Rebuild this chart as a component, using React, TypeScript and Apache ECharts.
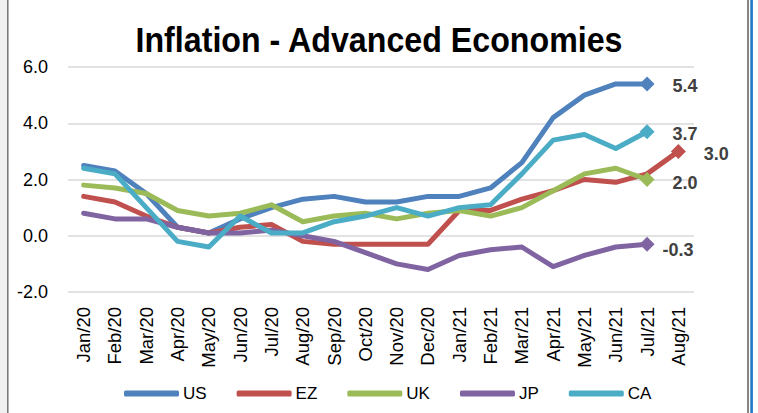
import React, { useEffect, useRef } from "react";
import * as echarts from "echarts";

const categories = [
  "Jan/20", "Feb/20", "Mar/20", "Apr/20", "May/20", "Jun/20", "Jul/20", "Aug/20", "Sep/20", "Oct/20",
  "Nov/20", "Dec/20", "Jan/21", "Feb/21", "Mar/21", "Apr/21", "May/21", "Jun/21", "Jul/21", "Aug/21",
];
const usValues = [2.5, 2.3, 1.5, 0.3, 0.1, 0.6, 1.0, 1.3, 1.4, 1.2, 1.2, 1.4, 1.4, 1.7, 2.6, 4.2, 5.0, 5.4, 5.4, null];
const ezValues = [1.4, 1.2, 0.7, 0.3, 0.1, 0.3, 0.4, -0.2, -0.3, -0.3, -0.3, -0.3, 0.9, 0.9, 1.3, 1.6, 2.0, 1.9, 2.2, 3.0];
const ukValues = [1.8, 1.7, 1.5, 0.9, 0.7, 0.8, 1.1, 0.5, 0.7, 0.8, 0.6, 0.8, 0.9, 0.7, 1.0, 1.6, 2.2, 2.4, 2.0, null];
const jpValues = [0.8, 0.6, 0.6, 0.3, 0.1, 0.1, 0.2, 0.0, -0.2, -0.6, -1.0, -1.2, -0.7, -0.5, -0.4, -1.1, -0.7, -0.4, -0.3, null];
const caValues = [2.4, 2.2, 1.0, -0.2, -0.4, 0.7, 0.1, 0.1, 0.5, 0.7, 1.0, 0.7, 1.0, 1.1, 2.2, 3.4, 3.6, 3.1, 3.7, null];

const seriesNames = ["US", "EZ", "UK", "JP", "CA"];
const seriesColors = ["#4F81BD", "#C0504D", "#9BBB59", "#8064A2", "#4BACC6"];
const seriesValues = [usValues, ezValues, ukValues, jpValues, caValues];
const labelDistance = [18, 18, 18, 8, 18];
const labelOffsetY = [2, 3, 3, 6, 2];

const FONT = "'Liberation Sans', Arial, sans-serif";

function buildData(values: (number | null)[], idx: number) {
  let last = -1;
  values.forEach((v, i) => {
    if (v !== null) last = i;
  });
  return values.map((v, i) => {
    if (v === null) return "-";
    if (i !== last) return v;
    return {
      value: v,
      symbol: "diamond",
      symbolSize: 15,
      label: {
        show: true,
        position: "right",
        distance: labelDistance[idx],
        offset: [0, labelOffsetY[idx]],
        formatter: (p: any) => Number(p.value).toFixed(1),
        color: "#404040",
        fontWeight: "bold",
        fontSize: 18,
        fontFamily: FONT,
      },
    };
  });
}

export default function App() {
  const ref = useRef<HTMLDivElement>(null);
  useEffect(() => {
    if (!ref.current) return;
    const chart = echarts.init(ref.current, undefined, { renderer: "svg" });
    chart.setOption({
      animation: false,
      backgroundColor: "#ffffff",
      graphic: [
        { type: "rect", shape: { x: 0, y: 0, width: 7, height: 413 }, style: { fill: "#f0f0f0" }, silent: true },
        { type: "rect", shape: { x: 7, y: 0, width: 1.6, height: 413 }, style: { fill: "#7a7a7a" }, silent: true },
        { type: "rect", shape: { x: 747, y: 0, width: 2, height: 413 }, style: { fill: "#858585" }, silent: true },
        { type: "rect", shape: { x: 750.3, y: 0, width: 2.6, height: 413 }, style: { fill: "#1f78c8" }, silent: true },
        {
          type: "text",
          x: 379,
          y: 40,
          scaleX: 0.92,
          style: {
            text: "Inflation - Advanced Economies",
            fontFamily: FONT,
            fontWeight: "bold",
            fontSize: 35,
            fill: "#000000",
            textAlign: "center",
            textVerticalAlign: "middle",
          },
          silent: true,
        },
      ],
      legend: {
        left: 124,
        top: 385,
        padding: 0,
        icon: "roundRect",
        itemWidth: 55,
        itemHeight: 6,
        itemGap: 30,
        textStyle: { fontFamily: FONT, fontSize: 17, color: "#000000", padding: [0, 0, 0, -1] },
        data: seriesNames,
      },
      grid: { left: 68, right: 64, top: 67, bottom: 121, containLabel: false },
      xAxis: {
        type: "category",
        data: categories,
        boundaryGap: true,
        axisLine: { show: false },
        axisTick: { show: false },
        axisLabel: {
          rotate: 90,
          interval: 0,
          margin: 15,
          fontFamily: FONT,
          fontSize: 18.5,
          color: "#000000",
        },
        splitLine: { show: false },
      },
      yAxis: {
        type: "value",
        min: -2,
        max: 6,
        interval: 2,
        axisLine: { show: false },
        axisTick: { show: false },
        axisLabel: {
          margin: 20,
          fontFamily: FONT,
          fontSize: 18,
          color: "#000000",
          formatter: (v: number) => v.toFixed(1),
        },
        splitLine: { show: true, lineStyle: { color: "#d9d9d9", width: 1.5 } },
      },
      series: seriesNames.map((name, i) => ({
        name,
        type: "line",
        data: buildData(seriesValues[i], i),
        symbol: "none",
        showSymbol: true,
        connectNulls: false,
        color: seriesColors[i],
        lineStyle: { width: 5, color: seriesColors[i], cap: "round", join: "round" },
        itemStyle: { color: seriesColors[i] },
        emphasis: { disabled: true },
        z: 2 + i,
      })),
    });
    return () => chart.dispose();
  }, []);
  return (
    <div
      ref={ref}
      style={{ position: "absolute", left: 0, top: 0, width: 758, height: 413 }}
    />
  );
}
